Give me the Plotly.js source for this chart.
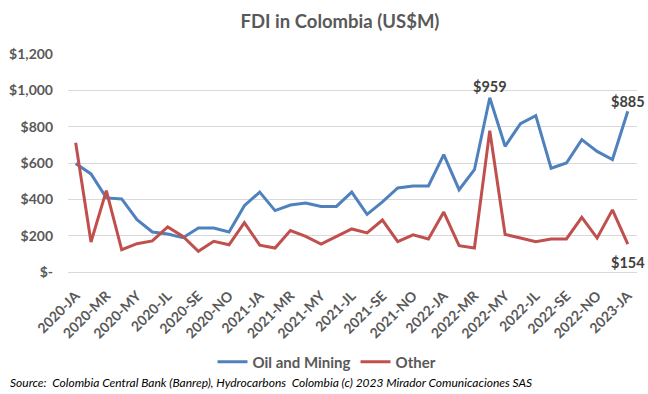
<!DOCTYPE html>
<html>
<head>
<meta charset="utf-8">
<script src="https://cdn.plot.ly/plotly-3.0.1.min.js"></script>
<style>html,body{margin:0;padding:0;background:#fff;}#chart{width:648px;height:394px;}</style>
</head>
<body>
<div id="chart"></div>
<script>
var categories = [
  "2020-JA","2020-FE","2020-MR","2020-AP","2020-MY","2020-JN","2020-JL","2020-AU","2020-SE","2020-OC","2020-NO","2020-DE",
  "2021-JA","2021-FE","2021-MR","2021-AP","2021-MY","2021-JN","2021-JL","2021-AU","2021-SE","2021-OC","2021-NO","2021-DE",
  "2022-JA","2022-FE","2022-MR","2022-AP","2022-MY","2022-JN","2022-JL","2022-AU","2022-SE","2022-OC","2022-NO","2022-DE",
  "2023-JA"
];
var oilMining = [597,540,408,402,288,220,209,189,242,242,220,365,
                 440,338,369,380,361,361,440,317,386,463,474,474,
                 646,453,563,959,692,817,861,571,600,729,664,619,
                 885];
var other = [711,165,448,123,156,171,248,196,114,169,150,272,
             148,132,228,196,154,196,237,215,286,167,205,182,
             330,145,132,778,207,187,167,182,182,301,187,342,
             154];
var tickLabels = ["2020-JA","2020-MR","2020-MY","2020-JL","2020-SE","2020-NO",
                  "2021-JA","2021-MR","2021-MY","2021-JL","2021-SE","2021-NO",
                  "2022-JA","2022-MR","2022-MY","2022-JL","2022-SE","2022-NO","2023-JA"];
var yTickVals = [0,200,400,600,800,1000,1200];
var yTickText = ["$-","$200","$400","$600","$800","$1,000","$1,200"];
var seriesNames = ["Oil and Mining","Other"];

var maxIdx = oilMining.indexOf(Math.max.apply(null, oilMining));
var lastIdx = oilMining.length - 1;

var font = "Lato, 'Open Sans', sans-serif";
var gray = "#595959";
var labelFont = {family: font, size: 14.5, color: "#404040", weight: "bold"};

var traces = [
  {x: categories, y: oilMining, name: seriesNames[0], type: "scatter", mode: "lines",
   line: {color: "#4f81bd", width: 3}, cliponaxis: false},
  {x: categories, y: other, name: seriesNames[1], type: "scatter", mode: "lines",
   line: {color: "#c0504d", width: 3}, cliponaxis: false}
];

var dataLabels = [
  {x: categories[maxIdx], y: oilMining[maxIdx], text: "$" + oilMining[maxIdx], xref: "x", yref: "y",
   showarrow: false, yanchor: "middle", yshift: 11, font: labelFont},
  {x: categories[lastIdx], y: oilMining[lastIdx], text: "$" + oilMining[lastIdx], xref: "x", yref: "y",
   showarrow: false, yanchor: "middle", yshift: 10, font: labelFont},
  {x: categories[lastIdx], y: other[lastIdx], text: "$" + other[lastIdx], xref: "x", yref: "y",
   showarrow: false, yanchor: "middle", yshift: -18, font: labelFont}
];

var layout = {
  width: 648, height: 394,
  margin: {l: 68, r: 11, t: 54, b: 122},
  paper_bgcolor: "#fff", plot_bgcolor: "#fff",
  font: {family: font, color: gray},
  title: {text: "FDI in Colombia (US$M)", font: {family: font, size: 18.5, color: gray, weight: "bold"},
          x: 340/648, xref: "container", xanchor: "center", y: 1 - 22/394, yref: "container", yanchor: "middle"},
  xaxis: {type: "category", categoryorder: "array", categoryarray: categories,
          range: [-0.5, 36.6], tickmode: "array", tickvals: tickLabels, ticktext: tickLabels,
          tickangle: -45, tickfont: {family: font, size: 14, color: gray, weight: "bold"},
          ticklabelstandoff: 12,
          showgrid: false, showline: false, zeroline: false, ticks: "", fixedrange: true},
  yaxis: {range: [0, 1200], tickmode: "array", tickvals: yTickVals, ticktext: yTickText,
          tickfont: {family: font, size: 14, color: gray, weight: "bold"},
          showgrid: true, gridcolor: "#d9d9d9", gridwidth: 1, zeroline: true, zerolinecolor: "#d9d9d9",
          zerolinewidth: 1, showline: false, ticks: "", ticklabelstandoff: 14, fixedrange: true},
  showlegend: true,
  legend: {orientation: "h", x: 327/648, xref: "container", xanchor: "center",
           y: 1 - 362/394, yref: "container", yanchor: "middle",
           font: {family: font, size: 15, color: gray, weight: "bold"}, itemwidth: 30, traceorder: "normal"},
  annotations: dataLabels.concat([
    {text: "Source:  Colombia Central Bank (Banrep), Hydrocarbons  Colombia (c) 2023 Mirador Comunicaciones SAS",
     xref: "paper", yref: "paper", x: (8-68)/569, y: (272.3-383)/218, xanchor: "left", yanchor: "middle",
     showarrow: false, font: {family: font, size: 12, color: "#000", style: "italic"}}
  ])
};

Plotly.newPlot("chart", traces, layout, {displayModeBar: false, staticPlot: true});
</script>
</body>
</html>
